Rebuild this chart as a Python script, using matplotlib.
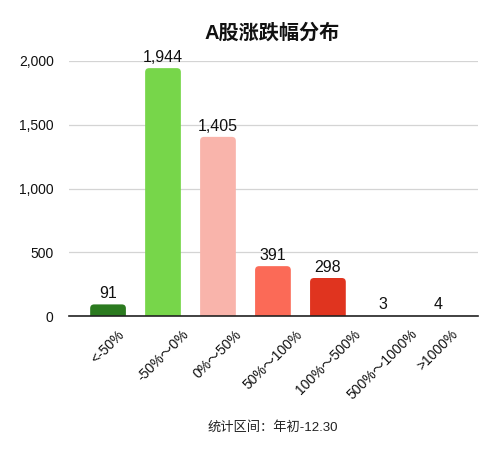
import matplotlib
matplotlib.use("Agg")
import matplotlib.pyplot as plt
from matplotlib.patches import FancyBboxPatch

plt.rcParams['font.family'] = ['Liberation Sans', 'Noto Sans CJK SC', 'DejaVu Sans']

# data
categories = ['<-50%', '-50%～0%', '0%～50%', '50%～100%', '100%～500%', '500%～1000%', '>1000%']
counts = [91, 1944, 1405, 391, 298, 3, 4]
colors = ['#2b7a1f', '#77d64a', '#f9b4ab', '#fb6a57', '#e0341f', '#e0341f', '#e0341f']
yticks = [0, 500, 1000, 1500, 2000]

fig = plt.figure(figsize=(4.99, 4.63), dpi=100)
ax = fig.add_axes([69 / 499, 1 - 316 / 463, 409 / 499, 255 / 463])

ax.set_xlim(-0.71, 6.73)
ax.set_ylim(0, 2000)

# plain bars first, then swap them for rounded ones
bars = ax.bar(range(len(categories)), counts, width=0.65, color=colors)
x_per_px = 7.44 / 409
y_per_px = 2000 / 255
r_px = 4
for b, c in zip(bars, colors):
    b.set_visible(False)
    h = b.get_height()
    if h / y_per_px < 1.5:
        continue
    p = FancyBboxPatch((b.get_x(), -r_px * y_per_px), b.get_width(), h + r_px * y_per_px,
                       boxstyle=f"round,pad=0,rounding_size={r_px * x_per_px}",
                       mutation_aspect=y_per_px / x_per_px,
                       facecolor=c, edgecolor='none', clip_on=True)
    ax.add_patch(p)

for i, v in enumerate(counts):
    ax.text(i, v + 25, f"{v:,}", ha='center', va='bottom', fontsize=11.5, color='#111111')

ax.set_yticks(yticks)
ax.set_yticklabels([f"{t:,}" for t in yticks])
ax.grid(axis='y', color='#d4d4d4', linewidth=0.9)
ax.set_axisbelow(True)
for s in ['top', 'right', 'left']:
    ax.spines[s].set_visible(False)
ax.spines['bottom'].set_color('#222222')
ax.spines['bottom'].set_linewidth(1.2)
ax.spines['bottom'].set_zorder(5)

ax.tick_params(axis='y', length=0, pad=11, labelsize=10, labelcolor='#111111')
ax.tick_params(axis='x', length=0, pad=8, labelsize=10, labelcolor='#111111')
ax.set_xticks(range(len(categories)))
ax.set_xticklabels(categories, rotation=45, ha='center', va='top')

fig.text(272 / 499, 1 - 33 / 463, 'A股涨跌幅分布', ha='center', va='center',
         fontsize=14.5, fontweight='bold', color='#111111')
fig.text(273 / 499, 1 - 427 / 463, '统计区间：年初-12.30', ha='center', va='center',
         fontsize=9.5, color='#222222')

fig.savefig('out.png', dpi=100)
